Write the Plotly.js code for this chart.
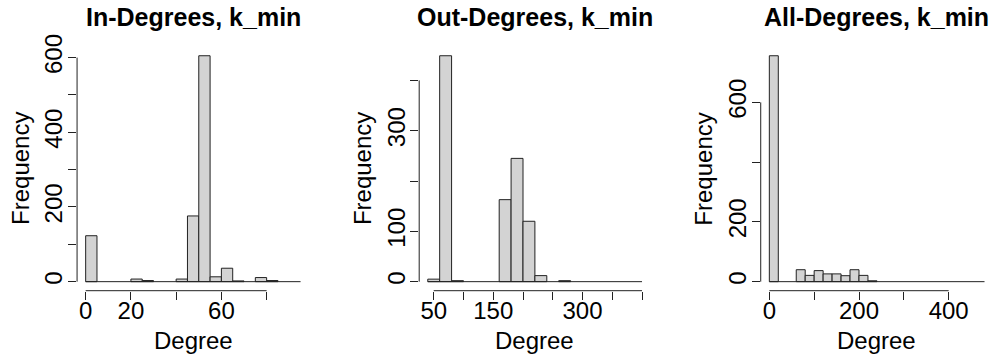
<!DOCTYPE html>
<html><head><meta charset="utf-8">
<script src="https://cdn.plot.ly/plotly-3.0.1.min.js"></script>
<style>html,body{margin:0;padding:0;background:#fff}#chart{width:996px;height:360px}</style>
</head><body><div id="chart"></div>
<script>
// ---- data ----
const panelTitles = ["In-Degrees, k_min", "Out-Degrees, k_min", "All-Degrees, k_min"];
const xLabel = "Degree";
const yLabel = "Frequency";

const inBreaks  = [0,5,10,15,20,25,30,35,40,45,50,55,60,65,70,75,80,85,90,95];
const inCounts  = [123,0,0,0,7,3,0,0,7,176,605,13,36,2,0,11,3,0,0];

const outBreaks = [40,60,80,100,120,140,160,180,200,220,240,260,280,300,320,340,360,380,400];
const outCounts = [5,449,2,0,0,0,163,245,120,12,0,2,0,0,0,0,0,0];

const allBreaks = [0,20,40,60,80,100,120,140,160,180,200,220,240,260,280,300,320,340,360,380,400,420,440,460,480];
const allCounts = [756,0,0,40,21,37,26,26,20,40,21,3,0,0,0,0,0,0,0,0,0,0,0,0];

const inXTicks  = [0,20,40,60,80];
const inXText   = ["0","20","","60",""];
const outXTicks = [50,100,150,200,250,300,350,400];
const outXText  = ["50","","150","","","300","",""];
const allXTicks = [0,100,200,300,400];
const allXText  = ["0","","200","","400"];

const inYTicks  = [0,100,200,300,400,500,600];
const inYText   = ["0","","200","","400","","600"];
const outYTicks = [0,100,200,300,400];
const outYText  = ["0","100","","300",""];
const allYTicks = [0,200,400,600];
const allYText  = ["0","200","","600"];

// ---- layout geometry (pixels) ----
const W = 996, H = 360;
const plotTop = 46.7, plotBottom = 290.7;
const panelLeft  = [77.07, 419.2, 760.73];
const panelWidth = [232.1, 231.4, 232.4];

const FONT = "Liberation Sans, Arial, Helvetica, sans-serif";
const LINE = "#222";

const panels = [
  {breaks: inBreaks,  counts: inCounts,  xt: inXTicks,  xs: inXText,  yt: inYTicks,  ys: inYText},
  {breaks: outBreaks, counts: outCounts, xt: outXTicks, xs: outXText, yt: outYTicks, ys: outYText},
  {breaks: allBreaks, counts: allCounts, xt: allXTicks, xs: allXText, yt: allYTicks, ys: allYText}
];

const data = [];
const layout = {
  width: W, height: H,
  margin: {l:0, r:0, t:0, b:0},
  paper_bgcolor: "#fff", plot_bgcolor: "#fff",
  showlegend: false,
  font: {family: FONT, color: "#000", size: 24},
  shapes: [], annotations: []
};

panels.forEach((p, i) => {
  const sfx = i === 0 ? "" : String(i + 1);
  const xr = "x" + sfx, yr = "y" + sfx;
  const mids = [], widths = [], ys = [];
  for (let k = 0; k < p.counts.length; k++) {
    if (p.counts[k] > 0) {
      mids.push((p.breaks[k] + p.breaks[k + 1]) / 2);
      widths.push(p.breaks[k + 1] - p.breaks[k]);
      ys.push(p.counts[k]);
    }
  }
  data.push({
    type: "bar", x: mids, y: ys, width: widths,
    xaxis: xr, yaxis: yr,
    marker: {color: "#D3D3D3", line: {color: LINE, width: 1}},
    hoverinfo: "skip"
  });
  const b0 = p.breaks[0], b1 = p.breaks[p.breaks.length - 1];
  data.push({
    type: "scatter", mode: "lines", x: [b0, b1], y: [0, 0],
    xaxis: xr, yaxis: yr, line: {color: LINE, width: 1}, hoverinfo: "skip"
  });
  const xpad = 0.04 * (b1 - b0);
  const ymax = Math.max(...p.counts);
  const ypad = 0.04 * ymax;
  layout["xaxis" + sfx] = {
    domain: [panelLeft[i] / W, (panelLeft[i] + panelWidth[i]) / W],
    anchor: yr, range: [b0 - xpad, b1 + xpad],
    showgrid: false, zeroline: false, showline: false,
    ticks: "outside", ticklen: 8, tickwidth: 1, tickcolor: LINE,
    tickmode: "array", tickvals: p.xt, ticktext: p.xs,
    tickfont: {size: 24, family: FONT, color: "#000"},
    ticklabelstandoff: -10, fixedrange: true
  };
  layout["yaxis" + sfx] = {
    domain: [1 - plotBottom / H, 1 - plotTop / H],
    anchor: xr, range: [-ypad, ymax + ypad],
    showgrid: false, zeroline: false, showline: false,
    ticks: "outside", ticklen: 8, tickwidth: 1, tickcolor: LINE,
    tickmode: "array", tickvals: p.yt, ticktext: p.ys, tickangle: -90,
    tickfont: {size: 24, family: FONT, color: "#000"},
    ticklabelstandoff: -4, fixedrange: true
  };
  // axis lines spanning first to last tick (R style)
  layout.shapes.push({type: "line", xref: xr, yref: yr + " domain",
    x0: p.xt[0], x1: p.xt[p.xt.length - 1], y0: 0, y1: 0,
    line: {color: LINE, width: 1}});
  layout.shapes.push({type: "line", xref: xr + " domain", yref: yr,
    x0: 0, x1: 0, y0: p.yt[0], y1: p.yt[p.yt.length - 1],
    line: {color: LINE, width: 1}});
  // titles
  layout.annotations.push({text: panelTitles[i], xref: xr + " domain", x: 0.5,
    yref: "paper", y: 1 - 16.9 / H, yanchor: "middle", xanchor: "center",
    showarrow: false, font: {size: 25, family: FONT, color: "#000", weight: "bold"}});
  layout.annotations.push({text: xLabel, xref: xr + " domain", x: 0.5,
    yref: "paper", y: 1 - 340.9 / H, yanchor: "middle", xanchor: "center",
    showarrow: false, font: {size: 24, family: FONT, color: "#000"}});
  layout.annotations.push({text: yLabel, xref: xr + " domain", x: 0, xshift: -56.8,
    yref: yr + " domain", y: 0.5, yanchor: "middle", xanchor: "center", textangle: -90,
    showarrow: false, font: {size: 24, family: FONT, color: "#000"}});
});

Plotly.newPlot("chart", data, layout, {staticPlot: true, displayModeBar: false});
</script>
</body></html>
